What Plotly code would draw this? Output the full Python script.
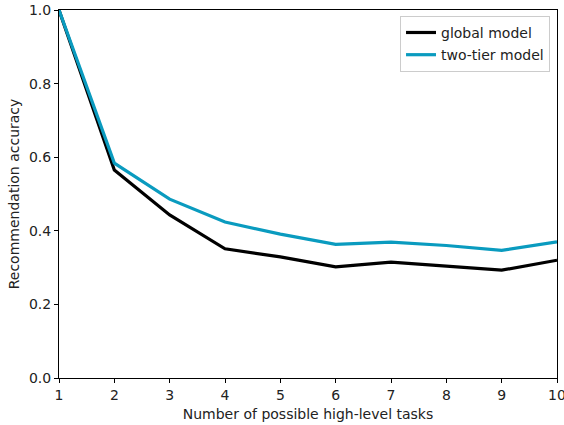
import plotly.graph_objects as go

tasks = [1, 2, 3, 4, 5, 6, 7, 8, 9, 10]
global_model = [1.0, 0.565, 0.443, 0.351, 0.329, 0.302, 0.315, 0.303, 0.293, 0.320]
two_tier_model = [1.0, 0.584, 0.486, 0.424, 0.391, 0.363, 0.369, 0.360, 0.347, 0.370]
x_ticks = [1, 2, 3, 4, 5, 6, 7, 8, 9, 10]
y_ticks = [0.0, 0.2, 0.4, 0.6, 0.8, 1.0]

FONT = "DejaVu Sans"
TXT = "#222222"

fig = go.Figure()
fig.add_trace(go.Scatter(x=tasks, y=global_model, mode="lines", name="global model",
                         legendgroup="g1",
                         line=dict(color="#000000", width=3.2)))
fig.add_trace(go.Scatter(x=tasks, y=two_tier_model, mode="lines", name="two-tier model",
                         legendgroup="g2",
                         line=dict(color="#0a9bbf", width=3.2)))

axis_common = dict(showline=True, linecolor="black", linewidth=1, mirror=True,
                   ticks="outside", ticklen=4, tickwidth=1, tickcolor="black",
                   showgrid=False, zeroline=False, automargin=False,
                   tickfont=dict(family=FONT, size=14, color=TXT))

fig.update_xaxes(range=[1, 10], tickvals=x_ticks, ticktext=[str(v) for v in x_ticks],
                 ticklabeloverflow="allow",
                 title=dict(text="Number of possible high-level tasks",
                            font=dict(family=FONT, size=14, color=TXT), standoff=7),
                 **axis_common)
fig.update_yaxes(range=[0, 1], tickvals=y_ticks, ticktext=[f"{v:.1f}" for v in y_ticks],
                 title=dict(text="Recommendation accuracy",
                            font=dict(family=FONT, size=14, color=TXT), standoff=6),
                 **axis_common)

fig.update_layout(
    width=564, height=425,
    margin=dict(l=59, r=7, t=10, b=47),
    plot_bgcolor="white", paper_bgcolor="white",
    font=dict(family=FONT, size=14, color=TXT),
    legend=dict(x=0.986, xanchor="right", y=0.984, yanchor="top",
                bgcolor="white", bordercolor="#cccccc", borderwidth=1,
                font=dict(family=FONT, size=14, color=TXT),
                tracegroupgap=1, itemwidth=30),
)

fig.write_html("out.html", config={"displayModeBar": False},
               post_script="document.body.style.margin='0';document.body.style.overflow='hidden';")
